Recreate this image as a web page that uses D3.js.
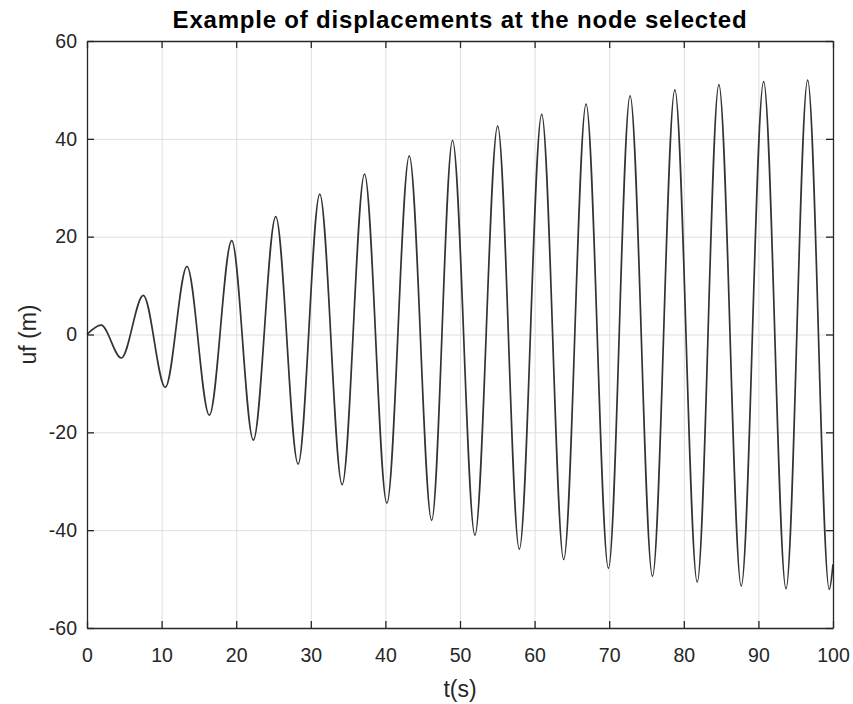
<!DOCTYPE html>
<html>
<head>
<meta charset="utf-8">
<script src="https://cdn.jsdelivr.net/npm/d3@7"></script>
<style>
  body { margin: 0; background: #fff; }
  text { font-family: "Liberation Sans", Arial, sans-serif; fill: #262626; }
</style>
</head>
<body>
<div id="chart"></div>
<script>
// extrema of the displacement trace (t in s, uf in m)
var times = [0, 1.9, 4.6, 7.55, 10.5, 13.4, 16.4, 19.4, 22.3, 25.3, 28.3, 31.2, 34.2, 37.2, 40.2, 43.2, 46.2,
             49.0, 52.0, 55.05, 57.95, 60.95, 63.9, 66.9, 69.9, 72.8, 75.8, 78.8, 81.8, 84.7, 87.7, 90.7, 93.7, 96.6, 99.5, 100];
var uf = [0, 1.9, -4.8, 8.0, -10.8, 13.9, -16.5, 19.2, -21.6, 24.1, -26.5, 28.7, -30.7, 32.8, -34.5, 36.5, -38.0,
          39.7, -41.0, 42.6, -43.9, 45.0, -46.0, 47.1, -47.8, 48.8, -49.4, 50.0, -50.6, 51.1, -51.4, 51.7, -51.95, 52.0, -52.1, -47];

var xTicks = [0, 10, 20, 30, 40, 50, 60, 70, 80, 90, 100];
var yTicks = [-60, -40, -20, 0, 20, 40, 60];

var titleText = "Example of displacements at the node selected";
var xLabel = "t(s)";
var yLabel = "uf (m)";

var dim = {
    'width': 853,
    'height': 704,
    'left': 87,
    'right': 833,
    'top': 41,
    'bottom': 628
};

var data = times.map((t, i) => ({ x: t, y: uf[i] }));

var svg = d3.select("#chart").append("svg")
    .attr("width", dim.width)
    .attr("height", dim.height);

var xScale = d3.scaleLinear()
    .domain([0, 100])
    .range([dim.left, dim.right]);
var yScale = d3.scaleLinear()
    .domain([-60, 60])
    .range([dim.bottom, dim.top]);

var plotW = dim.right - dim.left;
var plotH = dim.bottom - dim.top;
var fmt = d => String(d);   // plain hyphen for negatives, like MATLAB

// grid
svg.append("g")
    .attr("transform", `translate(0,${dim.bottom})`)
    .call(d3.axisBottom(xScale).tickValues(xTicks).tickSize(-plotH).tickFormat(""))
    .call(g => g.select(".domain").remove())
    .call(g => g.selectAll("line").attr("stroke", "#dedede"));
svg.append("g")
    .attr("transform", `translate(${dim.left},0)`)
    .call(d3.axisLeft(yScale).tickValues(yTicks).tickSize(-plotW).tickFormat(""))
    .call(g => g.select(".domain").remove())
    .call(g => g.selectAll("line").attr("stroke", "#dedede"));

// trace
var line = d3.line()
    .x(d => xScale(d.x))
    .y(d => yScale(d.y))
    .curve(d3.curveMonotoneX);

svg.append("path")
    .datum(data)
    .attr("d", line)
    .attr("fill", "none")
    .attr("stroke", "#333")
    .attr("stroke-width", 1.7);

// axes (ticks inward, box on)
var tick = 7;
var xAxis = svg.append("g")
    .attr("transform", `translate(0,${dim.bottom})`)
    .call(d3.axisBottom(xScale).tickValues(xTicks).tickFormat(fmt).tickSizeInner(-tick).tickSizeOuter(0).tickPadding(20));
var yAxis = svg.append("g")
    .attr("transform", `translate(${dim.left},0)`)
    .call(d3.axisLeft(yScale).tickValues(yTicks).tickFormat(fmt).tickSizeInner(-tick).tickSizeOuter(0).tickPadding(10));
var topAxis = svg.append("g")
    .attr("transform", `translate(0,${dim.top})`)
    .call(d3.axisTop(xScale).tickValues(xTicks).tickSizeInner(-tick).tickSizeOuter(0).tickFormat(""));
var rightAxis = svg.append("g")
    .attr("transform", `translate(${dim.right},0)`)
    .call(d3.axisRight(yScale).tickValues(yTicks).tickSizeInner(-tick).tickSizeOuter(0).tickFormat(""));

[xAxis, yAxis, topAxis, rightAxis].forEach(g => {
    g.select(".domain").attr("stroke", "#262626").attr("stroke-width", 1.3);
    g.selectAll(".tick line").attr("stroke", "#262626").attr("stroke-width", 1.3);
    g.selectAll(".tick text")
        .attr("fill", "#262626")
        .style("font-family", '"Liberation Sans", Arial, sans-serif')
        .style("font-size", "19.5px");
});

// title and labels
svg.append("text")
    .attr("x", (dim.left + dim.right) / 2)
    .attr("y", 28)
    .attr("text-anchor", "middle")
    .style("font-size", "24px")
    .style("letter-spacing", "0.8px")
    .style("font-weight", "bold")
    .style("fill", "#000")
    .text(titleText);

svg.append("text")
    .attr("x", (dim.left + dim.right) / 2)
    .attr("y", 697)
    .attr("text-anchor", "middle")
    .style("font-size", "23px")
    .text(xLabel);

svg.append("text")
    .attr("transform", `translate(36,${(dim.top + dim.bottom) / 2}) rotate(-90)`)
    .attr("text-anchor", "middle")
    .style("font-size", "23px")
    .text(yLabel);
</script>
</body>
</html>
